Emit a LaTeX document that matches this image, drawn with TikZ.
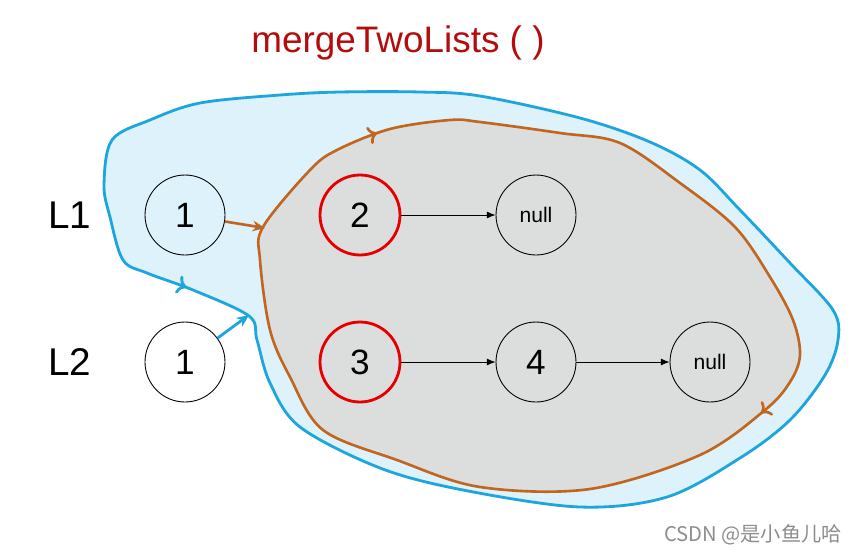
\documentclass[tikz,border=0pt]{standalone}
\usepackage{fontspec}
\setmainfont{Liberation Sans}
\newfontfamily\cjkfont{Noto Sans CJK SC}
\usepackage{tikz}
\usetikzlibrary{arrows.meta, decorations.markings}

\definecolor{blobblue}{HTML}{1DA6DD}
\definecolor{blobbluefill}{HTML}{DDF2FB}
\definecolor{blobbrown}{HTML}{C2651E}
\definecolor{blobgrey}{HTML}{DCDEDD}
\definecolor{titlered}{HTML}{B40C0C}

\begin{document}
\begin{tikzpicture}[x=0.02cm, y=-0.02cm,
    listnode/.style={circle, draw, line width=0.5pt, minimum size=1.6cm, inner sep=0pt, font=\fontsize{20}{22}\selectfont},
    nullnode/.style={listnode, font=\fontsize{12}{14}\selectfont},
    curnode/.style={listnode, draw=red!90!black, line width=1.6pt},
    nextarrow/.style={-{Latex[length=5pt, width=4pt]}, line width=0.5pt},
    listlabel/.style={font=\fontsize{22}{24}\selectfont}]
  \useasboundingbox (0,0) rectangle (866,555);
  % outer (blue) region
  \draw[blobblue, fill=blobbluefill, line width=1.6pt,
        postaction={decorate, decoration={markings,
          mark=at position 0.90 with {\arrow[blobblue]{<}}}}]
    plot[smooth cycle, tension=0.55] coordinates {
      (104,185) (112,140) (150,120) (200,103) (280,95) (340,92) (420,92)
      (480,96) (580,118) (650,142) (700,170) (740,210) (790,263) (833,310)
      (838,340) (825,375) (790,420) (740,458) (667,497) (580,507)
      (463,490) (380,468) (300,427) (270,383) (257,340) (249,316) (193,290)
      (147,273) (123,260) (110,217)};
  % inner (brown) region
  \draw[blobbrown, fill=blobgrey, line width=1.5pt,
        postaction={decorate, decoration={markings,
          mark=at position 0.03 with {\arrow[blobbrown]{>}},
          mark=at position 0.45 with {\arrow[blobbrown]{>}}}}]
    plot[smooth cycle, tension=0.55] coordinates {
      (310,170) (337,150) (390,129) (450,120) (480,122) (560,133) (620,143)
      (680,183) (735,227) (770,277) (793,320) (800,355) (790,382) (765,410)
      (700,455) (590,489) (480,487) (397,460) (323,430) (290,377)
      (270,330) (260,260) (263,227)};
  % title
  \node[text=titlered, font=\fontsize{21}{23}\selectfont] (title) at (398,43) {mergeTwoLists ( )};
  % list labels
  \node[listlabel] (lone) at (70,215) {L1};
  \node[listlabel] (ltwo) at (70,362) {L2};
  % first list
  \node[listnode] (aone) at (185,215) {1};
  \node[curnode] (atwo) at (360,215) {2};
  \node[nullnode] (anull) at (536,215) {null};
  % second list
  \node[listnode] (bone) at (185,362) {1};
  \node[curnode] (bthree) at (360,362) {3};
  \node[listnode] (bfour) at (536,362) {4};
  \node[nullnode] (bnull) at (710,362) {null};
  % next pointers
  \draw[nextarrow] (atwo) -- (anull);
  \draw[nextarrow] (bthree) -- (bfour);
  \draw[nextarrow] (bfour) -- (bnull);
  % merge arrows
  \coordinate (brownin) at (265,228);
  \coordinate (bluein) at (249,315);
  \draw[blobbrown, line width=1.5pt, -{Stealth[length=7pt, width=6pt]}] (aone) -- (brownin);
  \draw[blobblue, line width=1.6pt, -{Stealth[length=7pt, width=6pt]}] (bone) -- (bluein);
  % watermark
  \node[text=black!45, font=\cjkfont\fontsize{11.5}{13}\selectfont, anchor=east] (mark) at (848,535) {CSDN @是小鱼儿哈};
\end{tikzpicture}
\end{document}
